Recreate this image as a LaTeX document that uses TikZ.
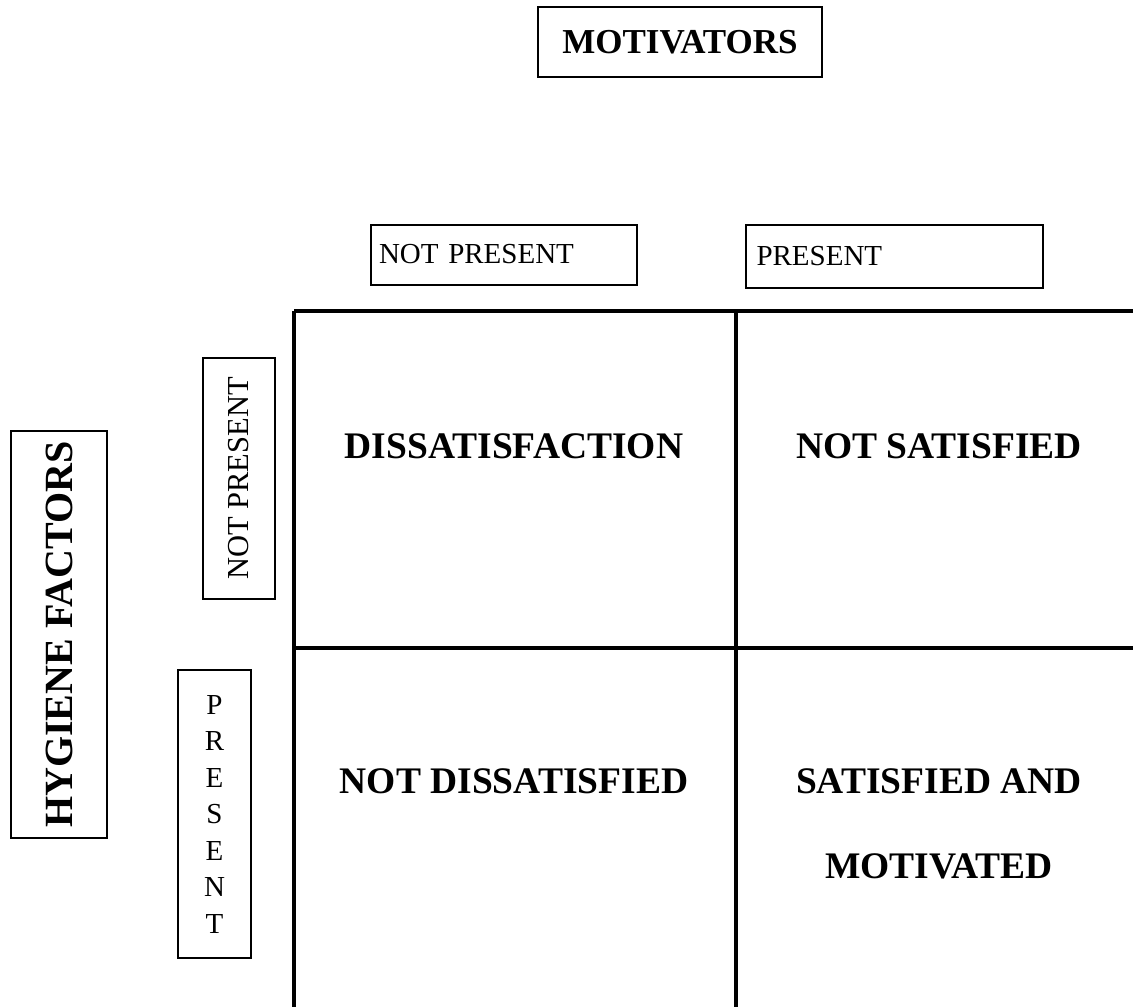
\documentclass[tikz,border=0pt]{standalone}
\usepackage{fontspec}
\setmainfont{Liberation Serif}
\begin{document}
\begin{tikzpicture}[x=1pt,y=-1pt,
  labelbox/.style={draw=black,line width=1.8pt,inner sep=0pt},
  reg/.style={font=\fontsize{29}{36.5}\selectfont},
  bld/.style={font=\fontsize{37.5}{42}\selectfont\bfseries},
  grid/.style={line width=3.5pt}]
\useasboundingbox (0,0) rectangle (1133,1007);
% header boxes
\node[labelbox,font=\fontsize{35}{42}\selectfont\bfseries,minimum width=284pt,minimum height=70pt] (mot) at (680,42) {MOTIVATORS};
\node[labelbox,reg,minimum width=266pt,minimum height=60pt,text width=250pt,align=left] (npT) at (504,255) {\raisebox{2pt}{NOT PRESENT}};
\node[labelbox,reg,minimum width=297pt,minimum height=63pt,text width=276pt,align=left] (prT) at (894.5,256.5) {\raisebox{2pt}{PRESENT}};
% side boxes
\node[labelbox,font=\fontsize{40}{46}\selectfont\bfseries,rotate=90,minimum width=407pt,minimum height=96pt] (hyg) at (59,634.5) {HYGIENE FACTORS};
\node[labelbox,font=\fontsize{30.5}{36}\selectfont,rotate=90,minimum width=241pt,minimum height=72pt] (npL) at (239,478.5) {NOT PRESENT};
\node[labelbox,reg,align=center,minimum width=73pt,minimum height=288pt] (prL) at (214.5,814) {P\\R\\E\\S\\E\\N\\T};
% grid
\coordinate (tl) at (294,311);
\coordinate (tr) at (1133,311);
\coordinate (tm) at (736,311);
\coordinate (ml) at (294,648);
\coordinate (mr) at (1133,648);
\coordinate (bl) at (294,1007);
\coordinate (bm) at (736,1007);
\draw[grid] (tl) -- (tr);
\draw[grid] (ml) -- (mr);
\draw[grid] (tl) -- (bl);
\draw[grid] (tm) -- (bm);
% cell labels
\node[bld] (c11) at (514,446) {DISSATISFACTION};
\node[bld] (c12) at (939,446) {NOT SATISFIED};
\node[bld] (c21) at (514,781) {NOT DISSATISFIED};
\node[bld] (c22a) at (939,781) {SATISFIED AND};
\node[bld] (c22b) at (939,866) {MOTIVATED};
\end{tikzpicture}
\end{document}
